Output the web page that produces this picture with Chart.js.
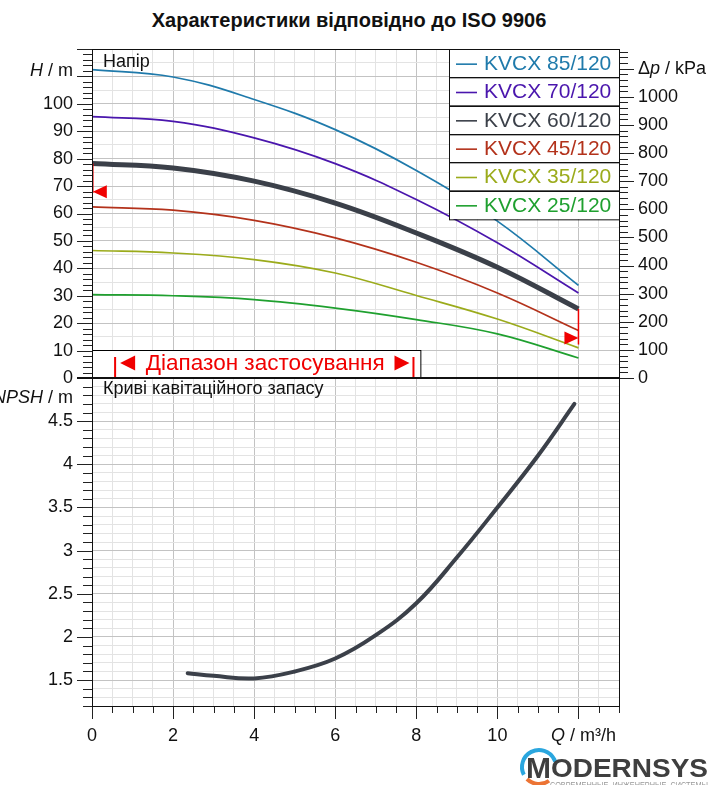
<!DOCTYPE html>
<html>
<head>
<meta charset="utf-8">
<script src="https://cdn.jsdelivr.net/npm/chart.js@4.4.0/dist/chart.umd.min.js"></script>
<style>
  html, body { margin: 0; padding: 0; background: #fff; }
  #wrap { position: relative; width: 712px; height: 785px; overflow: hidden; }
  #wrap canvas { position: absolute; left: 0; top: 0; }
  #title { position: absolute; left: 0; width: 698px; top: 9px; text-align: center;
           font: bold 20px "Liberation Sans", Arial, sans-serif; color: #111; }
</style>
</head>
<body>
<div id="wrap">
  <div id="title">Характеристики відповідно до ISO 9906</div>
  <canvas id="top" width="712" height="785"></canvas>
  <canvas id="bottom" width="712" height="785"></canvas>
</div>
<script>
// data
const pumps = ['KVCX 85/120', 'KVCX 70/120', 'KVCX 60/120', 'KVCX 45/120', 'KVCX 35/120', 'KVCX 25/120'];
const flow = [0, 2, 4, 6, 8, 10, 12];
const head85 = [112.5, 109.8, 101.6, 90.6, 75.7, 57.2, 33.8];
const head70 = [95.3, 93.6, 87.6, 78.2, 65.1, 49.3, 31.0];
const head60 = [78.2, 76.6, 71.8, 63.8, 52.9, 40.4, 25.2];
const head45 = [62.4, 61.2, 57.5, 51.1, 42.2, 31.0, 17.3];
const head35 = [46.5, 45.6, 43.2, 38.3, 30.1, 21.5, 11.0];
const head25 = [30.4, 30.0, 28.6, 25.5, 21.3, 16.1, 7.3];
const npshFlow = [2.36, 3, 4, 5, 6, 7, 8, 9, 10, 11, 11.9];
const npsh = [1.58, 1.55, 1.52, 1.60, 1.75, 2.02, 2.39, 2.92, 3.5, 4.1, 4.7];

const xTicks = [0, 2, 4, 6, 8, 10];
const headTicks = [0, 10, 20, 30, 40, 50, 60, 70, 80, 90, 100];
const dpTicks = [0, 100, 200, 300, 400, 500, 600, 700, 800, 900, 1000];
const npshTicks = [1.5, 2, 2.5, 3, 3.5, 4, 4.5];

// application range and duty markers
const rangeQ = [0.57, 7.93];
const rangeBox = [8.1, 10.2];          // Q end, H top of the range label box
const markerQ = [0, 12];
const markerTop = [78.2, 25.2];
const markerBottom = [67.5, 12.2];
const markerArrow = [67.9, 14.6];

const headSeries = [head85, head70, head60, head45, head35, head25];
const lineColors = ['#1f7aab', '#4a16ad', '#3b4049', '#b3321b', '#9bab1b', '#1fa02f'];
const lineWidths = [1.7, 1.7, 5, 1.7, 1.7, 1.7];

const FONT = '"Liberation Sans", Arial, sans-serif';
const GRID_MAJOR = '#c3c3c3';
const GRID_MINOR = '#e3e3e3';
const RED = '#f00000';

function near(v, step) {
  return Math.abs(v / step - Math.round(v / step)) < 1e-6;
}

function drawParts(ctx, parts, x, y, size, align) {
  const f = it => (it ? 'italic ' : '') + size + 'px ' + FONT;
  let w = 0;
  parts.forEach(p => { ctx.font = f(p[1]); w += ctx.measureText(p[0]).width; });
  let cx = align === 'right' ? x - w : x;
  ctx.textAlign = 'left';
  ctx.textBaseline = 'middle';
  parts.forEach(p => { ctx.font = f(p[1]); ctx.fillText(p[0], cx, y); cx += ctx.measureText(p[0]).width; });
}

// tick marks outside the plot, major longer than minor
function tickMarks(ctx, scale, major, minor, side) {
  ctx.strokeStyle = '#222';
  ctx.lineWidth = 1;
  const start = Math.ceil(scale.min / minor - 1e-6) * minor;
  for (let v = start; v <= scale.max + 1e-6; v += minor) {
    const len = near(v, major) ? 15 : 9;
    const p = Math.round(scale.getPixelForValue(v)) + 0.5;
    ctx.beginPath();
    if (side === 'left') { ctx.moveTo(scale.right - len, p); ctx.lineTo(scale.right, p); }
    if (side === 'right') { ctx.moveTo(scale.left, p); ctx.lineTo(scale.left + len, p); }
    if (side === 'bottom') { ctx.moveTo(p, scale.top); ctx.lineTo(p, scale.top + len - 2); }
    ctx.stroke();
  }
}

function triangle(ctx, tipX, tipY, dir, w, h) {
  ctx.beginPath();
  ctx.moveTo(tipX, tipY);
  ctx.lineTo(tipX - dir * w, tipY - h / 2);
  ctx.lineTo(tipX - dir * w, tipY + h / 2);
  ctx.closePath();
  ctx.fill();
}

const topDecor = {
  id: 'topDecor',
  afterDraw(chart) {
    const ctx = chart.ctx;
    const a = chart.chartArea;
    const x = chart.scales.x, y = chart.scales.y, dp = chart.scales.dp;
    ctx.save();

    tickMarks(ctx, y, 10, 2, 'left');
    tickMarks(ctx, dp, 100, 20, 'right');

    // duty point markers
    ctx.strokeStyle = RED;
    ctx.fillStyle = RED;
    ctx.lineWidth = 1.5;
    markerQ.forEach((q, i) => {
      const px = x.getPixelForValue(q) + (i === 0 ? 0.8 : 0);
      ctx.beginPath();
      ctx.moveTo(px, y.getPixelForValue(markerTop[i]));
      ctx.lineTo(px, y.getPixelForValue(markerBottom[i]));
      ctx.stroke();
      const dir = i === 0 ? -1 : 1;
      triangle(ctx, px, y.getPixelForValue(markerArrow[i]), dir, 14, 13);
    });

    // application range box
    const bx1 = x.getPixelForValue(rangeBox[0]);
    const by = y.getPixelForValue(rangeBox[1]);
    ctx.fillStyle = '#fff';
    ctx.fillRect(a.left, by, bx1 - a.left, a.bottom - by);
    ctx.strokeStyle = '#000';
    ctx.lineWidth = 1;
    ctx.strokeRect(a.left + 0.5, Math.round(by) + 0.5, bx1 - a.left, a.bottom - by);
    ctx.strokeStyle = RED;
    ctx.fillStyle = RED;
    ctx.lineWidth = 2;
    const r1 = x.getPixelForValue(rangeQ[0]), r2 = x.getPixelForValue(rangeQ[1]);
    ctx.beginPath();
    ctx.moveTo(r1, a.bottom - 21); ctx.lineTo(r1, a.bottom);
    ctx.moveTo(r2, a.bottom - 21); ctx.lineTo(r2, a.bottom);
    ctx.stroke();
    const ty = (by + a.bottom) / 2;
    triangle(ctx, r1 + 5, ty - 1, -1, 15, 15);
    triangle(ctx, r2 - 4, ty - 1, 1, 15, 15);
    ctx.font = '22.5px ' + FONT;
    ctx.textAlign = 'center';
    ctx.textBaseline = 'middle';
    ctx.fillText('Діапазон застосування', (r1 + r2) / 2 + 1, ty);

    // plot frame
    ctx.strokeStyle = '#111';
    ctx.lineWidth = 1;
    ctx.strokeRect(a.left + 0.5, a.top + 0.5, a.right - a.left, a.bottom - a.top);
    ctx.lineWidth = 2;
    ctx.beginPath();
    ctx.moveTo(a.left - 15, a.bottom); ctx.lineTo(a.right, a.bottom);
    ctx.stroke();

    // boxed legend
    const lw = 170, rh = (219 - a.top) / pumps.length;
    const lx = a.right - lw;
    ctx.fillStyle = '#fff';
    ctx.fillRect(lx, a.top, lw, rh * pumps.length);
    ctx.strokeStyle = '#111';
    ctx.lineWidth = 1;
    pumps.forEach((name, i) => {
      const ry = a.top + i * rh;
      ctx.strokeRect(lx + 0.5, Math.round(ry) + 0.5, lw, rh);
      const cy = ry + rh / 2 + 1;
      ctx.strokeStyle = lineColors[i];
      ctx.lineWidth = 1.6;
      ctx.beginPath();
      ctx.moveTo(lx + 7, cy); ctx.lineTo(lx + 28, cy);
      ctx.stroke();
      ctx.fillStyle = lineColors[i];
      ctx.font = '21px ' + FONT;
      ctx.textAlign = 'left';
      ctx.textBaseline = 'middle';
      ctx.fillText(name, lx + 35, cy);
      ctx.strokeStyle = '#111';
      ctx.lineWidth = 1;
    });

    // texts
    ctx.fillStyle = '#111';
    drawParts(ctx, [['Напір', false]], a.left + 11, 62, 18, 'left');
    drawParts(ctx, [['H', true], [' / m', false]], 73, 71, 18, 'right');
    drawParts(ctx, [['Δ', false], ['p', true], [' / kPa', false]], 638, 69, 18, 'left');
    ctx.restore();
  }
};

const bottomDecor = {
  id: 'bottomDecor',
  afterDraw(chart) {
    const ctx = chart.ctx;
    const a = chart.chartArea;
    const x = chart.scales.x, y = chart.scales.y;
    ctx.save();
    tickMarks(ctx, y, 0.5, 0.1, 'left');
    tickMarks(ctx, x, 2, 0.5, 'bottom');

    ctx.strokeStyle = '#111';
    ctx.lineWidth = 1;
    ctx.strokeRect(a.left + 0.5, a.top + 0.5, a.right - a.left, a.bottom - a.top);
    ctx.lineWidth = 2;
    ctx.beginPath();
    ctx.moveTo(a.left - 15, a.top); ctx.lineTo(a.right, a.top);
    ctx.stroke();

    ctx.fillStyle = '#111';
    drawParts(ctx, [['Криві кавітаційного запасу', false]], a.left + 11, 389, 18, 'left');
    drawParts(ctx, [['NPSH', true], [' / m', false]], 73, 398, 18, 'right');
    drawParts(ctx, [['Q', true], [' / m³/h', false]], 551, 736, 18, 'left');

    // logo
    const cx = 539, cy = 767;
    ctx.lineWidth = 4;
    ctx.strokeStyle = '#2aa6de';
    ctx.beginPath();
    ctx.arc(cx, cy, 17, Math.PI * 0.85, Math.PI * 1.9);
    ctx.stroke();
    ctx.strokeStyle = '#ec7434';
    ctx.beginPath();
    ctx.arc(cx, cy, 17, Math.PI * 0.3, Math.PI * 0.75);
    ctx.stroke();
    ctx.fillStyle = '#3f3f3f';
    ctx.textAlign = 'left';
    ctx.textBaseline = 'alphabetic';
    ctx.font = 'bold 30px ' + FONT;
    ctx.fillText('M', 526, 778);
    const mw = ctx.measureText('M').width;
    ctx.font = 'bold 26px ' + FONT;
    const rest = 'ODERNSYS';
    const rw = ctx.measureText(rest).width;
    ctx.save();
    ctx.translate(526 + mw, 777);
    ctx.scale((708 - 526 - mw) / rw, 1);
    ctx.fillText(rest, 0, 0);
    ctx.restore();
    ctx.fillStyle = '#9a9a9a';
    ctx.font = '9px ' + FONT;
    const sub = 'СОВРЕМЕННЫЕ  ИНЖЕНЕРНЫЕ  СИСТЕМЫ';
    const sw = ctx.measureText(sub).width;
    ctx.save();
    ctx.translate(550, 788);
    ctx.scale(158 / sw, 1);
    ctx.fillText(sub, 0, 0);
    ctx.restore();
    ctx.restore();
  }
};

const tickFont = { family: FONT, size: 18 };

new Chart(document.getElementById('top'), {
  type: 'line',
  data: {
    datasets: pumps.map((name, i) => ({
      label: name,
      data: flow.map((q, k) => ({ x: q, y: headSeries[i][k] })),
      borderColor: lineColors[i],
      borderWidth: lineWidths[i],
      pointRadius: 0,
      tension: 0.4,
      fill: false
    }))
  },
  options: {
    responsive: false,
    animation: false,
    events: [],
    layout: { padding: { top: 49, bottom: 785 - 378, left: 0, right: 0 } },
    plugins: { legend: { display: false }, tooltip: { enabled: false } },
    scales: {
      x: {
        type: 'linear', min: 0, max: 13,
        ticks: { display: false, stepSize: 0.5, includeBounds: false },
        grid: { drawTicks: false, color: c => near(c.tick.value, 2) ? GRID_MAJOR : GRID_MINOR },
        border: { display: false },
        afterFit: s => { s.height = 0; }
      },
      y: {
        type: 'linear', position: 'left', min: 0, max: 120,
        ticks: {
          stepSize: 5, includeBounds: false, padding: 19, font: tickFont, color: '#111', autoSkip: false,
          callback: v => headTicks.includes(v) ? String(v) : ''
        },
        grid: { drawTicks: false, color: c => near(c.tick.value, 10) ? GRID_MAJOR : GRID_MINOR },
        border: { display: false },
        afterFit: s => { s.width = 92; }
      },
      dp: {
        type: 'linear', position: 'right', min: 0, max: 1170,
        ticks: {
          stepSize: 100, includeBounds: false, padding: 19, font: tickFont, color: '#111', autoSkip: false,
          callback: v => dpTicks.includes(v) ? String(v) : ''
        },
        grid: { drawOnChartArea: false, drawTicks: false },
        border: { display: false },
        afterFit: s => { s.width = 93; }
      }
    }
  },
  plugins: [topDecor]
});

new Chart(document.getElementById('bottom'), {
  type: 'line',
  data: {
    datasets: [{
      label: 'NPSH',
      data: npshFlow.map((q, k) => ({ x: q, y: npsh[k] })),
      borderColor: '#3b4049',
      borderWidth: 4,
      borderCapStyle: 'round',
      pointRadius: 0,
      tension: 0.4,
      fill: false
    }]
  },
  options: {
    responsive: false,
    animation: false,
    events: [],
    layout: { padding: { top: 378, bottom: 0, left: 0, right: 93 } },
    plugins: { legend: { display: false }, tooltip: { enabled: false } },
    scales: {
      x: {
        type: 'linear', min: 0, max: 13,
        ticks: {
          stepSize: 0.5, includeBounds: false, padding: 19, font: tickFont, color: '#111',
          autoSkip: false, maxRotation: 0,
          callback: v => xTicks.includes(v) ? String(v) : ''
        },
        grid: { drawTicks: false, color: c => near(c.tick.value, 2) ? GRID_MAJOR : GRID_MINOR },
        border: { display: false },
        afterFit: s => { s.height = 785 - 706; }
      },
      y: {
        type: 'linear', position: 'left', min: 1.2, max: 5,
        ticks: {
          stepSize: 0.1, includeBounds: false, padding: 19, font: tickFont, color: '#111', autoSkip: false,
          callback: v => npshTicks.some(t => Math.abs(t - v) < 1e-6) ? String(Math.round(v * 10) / 10) : ''
        },
        grid: { drawTicks: false, color: c => near(c.tick.value, 0.5) ? GRID_MAJOR : GRID_MINOR },
        border: { display: false },
        afterFit: s => { s.width = 92; }
      }
    }
  },
  plugins: [bottomDecor]
});
</script>
</body>
</html>
